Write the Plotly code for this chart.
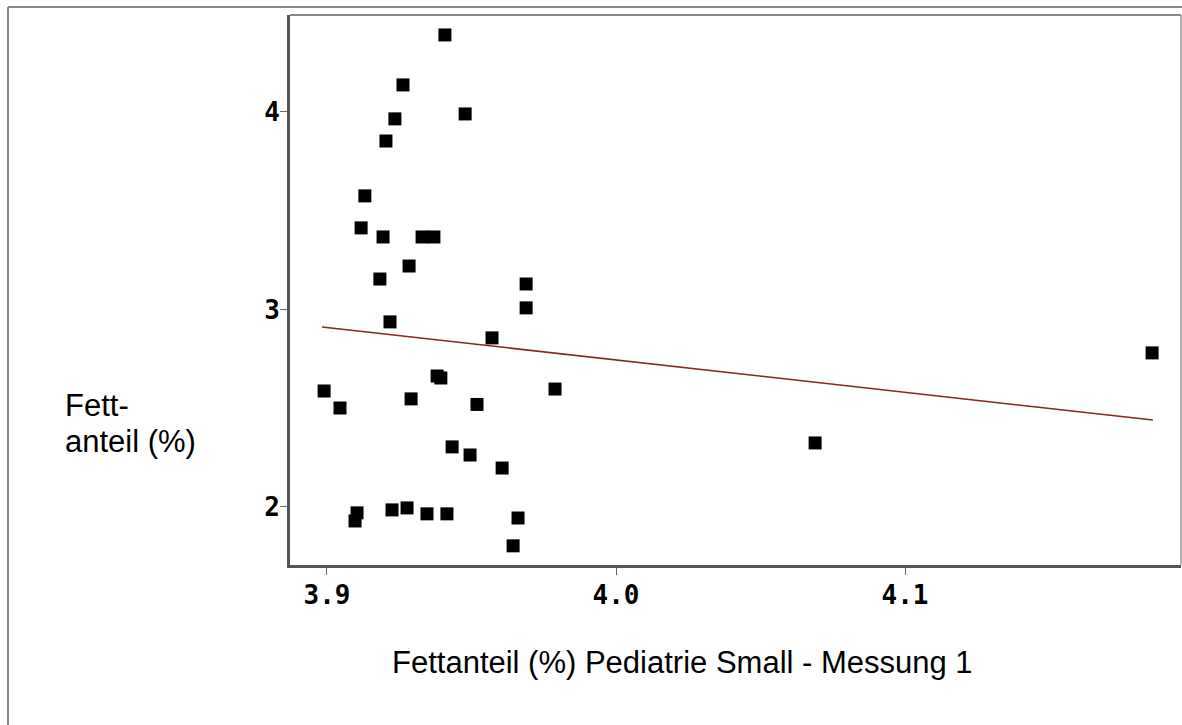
import plotly.graph_objects as go

# ---- data ----
x_vals = [3.9408, 3.9263, 3.9235, 3.9478, 3.9204, 3.9131, 3.9118, 3.9194, 3.9329, 3.9370,
          3.9284, 3.9183, 3.9689, 3.9689, 3.9218, 3.9571, 3.8990, 3.9045, 3.9291, 3.9381,
          3.9394, 3.9519, 3.9789, 3.9433, 3.9495, 3.9606, 4.0689, 4.1855, 3.9104, 3.9097,
          3.9225, 3.9277, 3.9346, 3.9415, 3.9661, 3.9644]
y_vals = [4.390, 4.137, 3.965, 3.990, 3.853, 3.575, 3.413, 3.367, 3.367, 3.367,
          3.220, 3.154, 3.129, 3.008, 2.937, 2.856, 2.587, 2.501, 2.547, 2.663,
          2.653, 2.519, 2.597, 2.304, 2.263, 2.197, 2.324, 2.780, 1.970, 1.929,
          1.985, 1.995, 1.965, 1.965, 1.944, 1.803]
fit_x = [3.8983, 4.1858]
fit_y = [2.911, 2.440]

x_ticks = [3.9, 4.0, 4.1]
x_tick_labels = ["3.9", "4.0", "4.1"]
y_ticks = [2, 3, 4]
y_tick_labels = ["2", "3", "4"]

x_title = "Fettanteil (%) Pediatrie Small - Messung 1"
y_title_lines = ["Fett-", "anteil (%)"]

# ---- layout geometry (pixels) ----
W, H = 1182, 725
L, R, T, B = 290, 1181, 15, 565
pw, ph = R - L, B - T

def px(x):
    return (x - L) / pw

def py(y):
    return (B - y) / ph

fig = go.Figure()
fig.add_trace(go.Scatter(x=fit_x, y=fit_y, mode="lines",
                         line=dict(color="#8b2323", width=1.6),
                         hoverinfo="skip", showlegend=False))
fig.add_trace(go.Scatter(x=x_vals, y=y_vals, mode="markers",
                         marker=dict(symbol="square", size=13, color="black",
                                     line=dict(width=0)),
                         showlegend=False))

tickfont = dict(family="DejaVu Sans Mono", size=26, color="black", weight="bold")
fig.update_xaxes(range=[3.8872, 4.1955], tickvals=x_ticks,
                 ticktext=x_tick_labels, ticks="outside", ticklen=7,
                 tickcolor="#666", tickwidth=1, showline=True, linecolor="#555",
                 linewidth=3, showgrid=False, zeroline=False,
                 tickfont=tickfont, ticklabelstandoff=-2)
fig.update_yaxes(range=[1.706, 4.491], tickvals=y_ticks,
                 ticktext=y_tick_labels, ticks="outside", ticklen=7,
                 tickcolor="#666", tickwidth=1, showline=True, linecolor="#555",
                 linewidth=3, showgrid=False, zeroline=False,
                 tickfont=tickfont, ticklabelstandoff=-5)

shapes = [
    # top and right of plot box (thin)
    dict(type="line", xref="paper", yref="paper", x0=0, x1=1, y0=1, y1=1,
         line=dict(color="#888", width=2)),
    dict(type="line", xref="paper", yref="paper", x0=1, x1=1, y0=0, y1=1,
         line=dict(color="#999", width=1.5)),
    # outer frame (top and left)
    dict(type="line", xref="paper", yref="paper", x0=px(8), x1=px(1200),
         y0=py(7), y1=py(7), line=dict(color="#888", width=2)),
    dict(type="line", xref="paper", yref="paper", x0=px(8), x1=px(8),
         y0=py(7), y1=py(740), line=dict(color="#888", width=2)),
]

font_t = dict(family="Liberation Sans", size=31, color="black")
annotations = [
    dict(text=x_title, xref="paper", yref="paper", x=px(390), y=py(662),
         xanchor="left", yanchor="middle", showarrow=False, font=font_t),
    dict(text=y_title_lines[0], xref="paper", yref="paper", x=px(63), y=py(405),
         xanchor="left", yanchor="middle", showarrow=False, font=font_t),
    dict(text=y_title_lines[1], xref="paper", yref="paper", x=px(63), y=py(441),
         xanchor="left", yanchor="middle", showarrow=False, font=font_t),
]

fig.update_layout(width=W, height=H,
                  margin=dict(l=L, r=W - R, t=T, b=H - B, pad=0),
                  paper_bgcolor="white", plot_bgcolor="white",
                  shapes=shapes, annotations=annotations, showlegend=False)

fig.write_html("out.html")
